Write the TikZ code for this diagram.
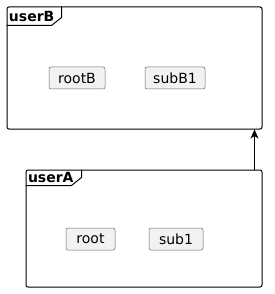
\documentclass[tikz,border=0pt]{standalone}
\usepackage{fontspec}
\setmainfont{DejaVu Sans}
\usetikzlibrary{arrows.meta}

\tikzset{
  frame/.style={draw,line width=1pt,rounded corners=2pt,inner sep=0pt},
  item/.style={draw=black!60,line width=0.5pt,fill=black!5,rounded corners=2pt,
    minimum height=22pt,inner sep=0pt,font=\fontsize{14}{16}\selectfont},
  tabname/.style={anchor=west,inner sep=0pt,font=\fontsize{14}{16}\selectfont\bfseries},
}

\begin{document}
\begin{tikzpicture}[x=1pt,y=-1pt,line width=1pt,>={Stealth[length=9pt,width=8pt,inset=2.5pt]}]
  \useasboundingbox (0,0) rectangle (274,294);
  % packages
  \node[frame,minimum width=255pt,minimum height=122pt] (userB) at (134.5,68) {};
  \node[frame,minimum width=236pt,minimum height=117pt] (userA) at (144,228.5) {};
  % tabs
  \draw (userB.north west) ++(0,19) -- ++(45,0) -- ++(10,-8) -- ++(0,-11);
  \node[tabname] (tB) at ([xshift=2pt,yshift=-9.5pt]userB.north west) {userB};
  \draw (userA.north west) ++(0,16) -- ++(46,0) -- ++(10,-8) -- ++(0,-8);
  \node[tabname] (tA) at ([xshift=2pt,yshift=-8pt]userA.north west) {userA};
  % nodes
  \node[item,minimum width=56pt] (rootB) at (77,78) {rootB};
  \node[item,minimum width=60pt] (subB1) at (175,78) {subB1};
  \node[item,minimum width=49pt] (root) at (90.5,239) {root};
  \node[item,minimum width=54pt] (sub1) at (176,239) {sub1};
  % link
  \draw[->] ([xshift=-8pt]userA.north east) -- ([xshift=-8pt]userB.south east);
\end{tikzpicture}
\end{document}
